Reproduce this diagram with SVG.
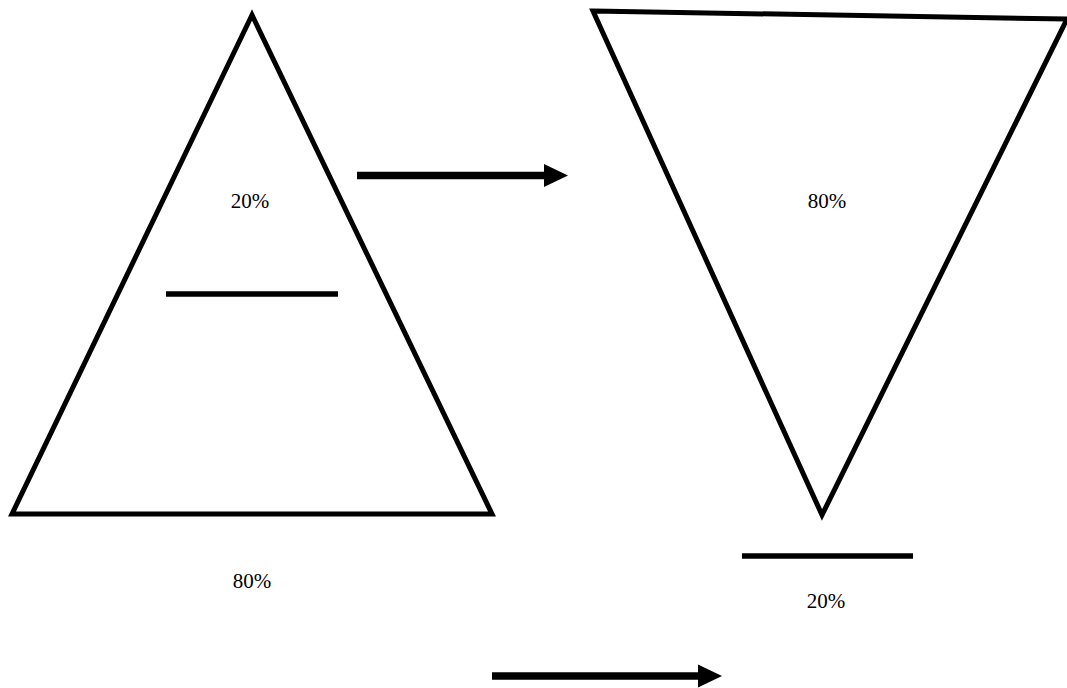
<svg xmlns="http://www.w3.org/2000/svg" width="1067" height="688" viewBox="0 0 1067 688">
  <style>
    .tri { fill: none; stroke: #000; stroke-width: 5; stroke-linejoin: miter; }
    .bar { stroke: #000; stroke-width: 5.5; }
    .shaft { stroke: #000; stroke-width: 7.5; }
    .lbl { font-family: "Liberation Serif", "Times New Roman", serif; font-size: 21px; fill: #000; text-anchor: middle; }
  </style>
  <rect width="1067" height="688" fill="#fff"/>

  <!-- pyramid -->
  <g id="pyramid">
    <polygon class="tri" points="252,15 12,514 492,514"/>
    <line class="bar" x1="166" y1="294" x2="338" y2="294"/>
    <text class="lbl" x="250" y="208">20%</text>
    <text class="lbl" x="252" y="588">80%</text>
  </g>

  <!-- inverted pyramid -->
  <g id="inverted">
    <polygon class="tri" points="593,11 1067,19 822,515"/>
    <line class="bar" x1="742" y1="556" x2="913" y2="556"/>
    <text class="lbl" x="827" y="208">80%</text>
    <text class="lbl" x="826" y="608">20%</text>
  </g>

  <!-- arrows -->
  <g id="connectors">
    <line class="shaft" x1="357" y1="175.5" x2="546" y2="175.5"/>
    <polygon points="544,164 568,175.5 544,187"/>
    <line class="shaft" x1="492" y1="676" x2="700" y2="676"/>
    <polygon points="698,664.5 722,676 698,687.5"/>
  </g>
</svg>
